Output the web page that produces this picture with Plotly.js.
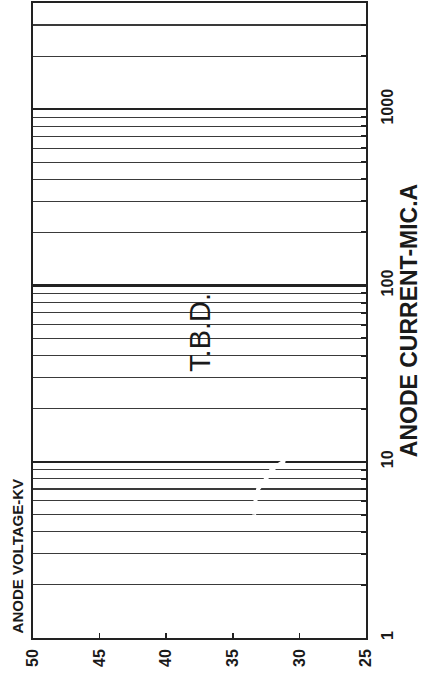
<!DOCTYPE html>
<html>
<head>
<meta charset="utf-8">
<script src="https://cdn.plot.ly/plotly-3.0.1.min.js"></script>
<style>
html,body{margin:0;padding:0;background:#fff;}
#chart{width:423px;height:676px;}
</style>
</head>
<body>
<div id="chart"></div>
<script>
// Axis values
var voltageTicks = [50, 45, 40, 35, 30, 25];
var voltageLabels = ["50", "45", "40", "35", "30", "25"];
var currentDecades = [1, 10, 100, 1000];
var currentDecadeLabels = ["1", "10", "100", "1000"];
var currentMinor = [2, 3, 4, 5, 6, 7, 8, 9,
                    20, 30, 40, 50, 60, 70, 80, 90,
                    200, 300, 400, 500, 600, 700, 800, 900,
                    2000, 3000];
var currentMax = 4000;

// Faint erased curve (white streak across the grid)
var erasedVoltage = [33.4, 33.3, 33.1, 32.5, 32.1, 31.2, 30.7];
var erasedCurrent = [5, 6, 7, 8, 9, 10, 15];

var font = "Liberation Sans, Arial, Helvetica, sans-serif";

var traces = [{
  x: erasedVoltage,
  y: erasedCurrent,
  type: "scatter",
  mode: "lines",
  line: {color: "#ffffff", width: 4},
  hoverinfo: "skip",
  showlegend: false
}];

var layout = {
  width: 423,
  height: 676,
  margin: {l: 33, r: 57, t: 3, b: 38},
  paper_bgcolor: "#ffffff",
  plot_bgcolor: "#ffffff",
  showlegend: false,
  font: {family: font, color: "#1a1a1a"},
  xaxis: {
    range: [50, 25],
    tickvals: voltageTicks,
    ticktext: voltageLabels,
    tickangle: -90,
    ticks: "inside",
    ticklen: 5,
    tickwidth: 1.5,
    tickcolor: "#222",
    ticklabelstandoff: 3,
    tickfont: {family: font, size: 16, color: "#1a1a1a", weight: 700},
    showgrid: false,
    zeroline: false,
    showline: true,
    linecolor: "#222",
    linewidth: 1.8,
    mirror: true
  },
  yaxis: {
    type: "log",
    range: [0, Math.log10(currentMax)],
    side: "right",
    tickvals: currentDecades,
    ticktext: currentDecadeLabels,
    tickangle: -90,
    ticks: "inside",
    ticklen: 6,
    tickwidth: 2,
    tickcolor: "#222",
    ticklabelstandoff: 6,
    tickfont: {family: font, size: 16, color: "#1a1a1a", weight: 700},
    showgrid: true,
    gridcolor: "#222",
    gridwidth: 2.4,
    minor: {
      tickvals: currentMinor,
      ticks: "inside",
      ticklen: 5,
      tickwidth: 2,
      tickcolor: "#222",
      showgrid: true,
      gridcolor: "#3a3a3a",
      gridwidth: 1.1
    },
    zeroline: false,
    showline: true,
    linecolor: "#222",
    linewidth: 1.8,
    mirror: true,
    title: {
      text: "ANODE CURRENT-MIC.A",
      font: {family: font, size: 23, color: "#1a1a1a", weight: 700},
      standoff: 2
    }
  },
  annotations: [
    {
      text: "ANODE VOLTAGE-KV",
      xref: "paper", yref: "paper",
      x: -0.047, y: 0.129,
      xanchor: "center", yanchor: "middle",
      textangle: -90,
      showarrow: false,
      font: {family: font, size: 15, color: "#1a1a1a", weight: 700}
    },
    {
      text: "T.B.D.",
      xref: "paper", yref: "paper",
      x: 0.5015, y: 0.482,
      xanchor: "center", yanchor: "middle",
      textangle: -90,
      showarrow: false,
      font: {family: font, size: 29, color: "#1a1a1a"}
    }
  ]
};

Plotly.newPlot("chart", traces, layout, {staticPlot: true, displayModeBar: false});
</script>
</body>
</html>
